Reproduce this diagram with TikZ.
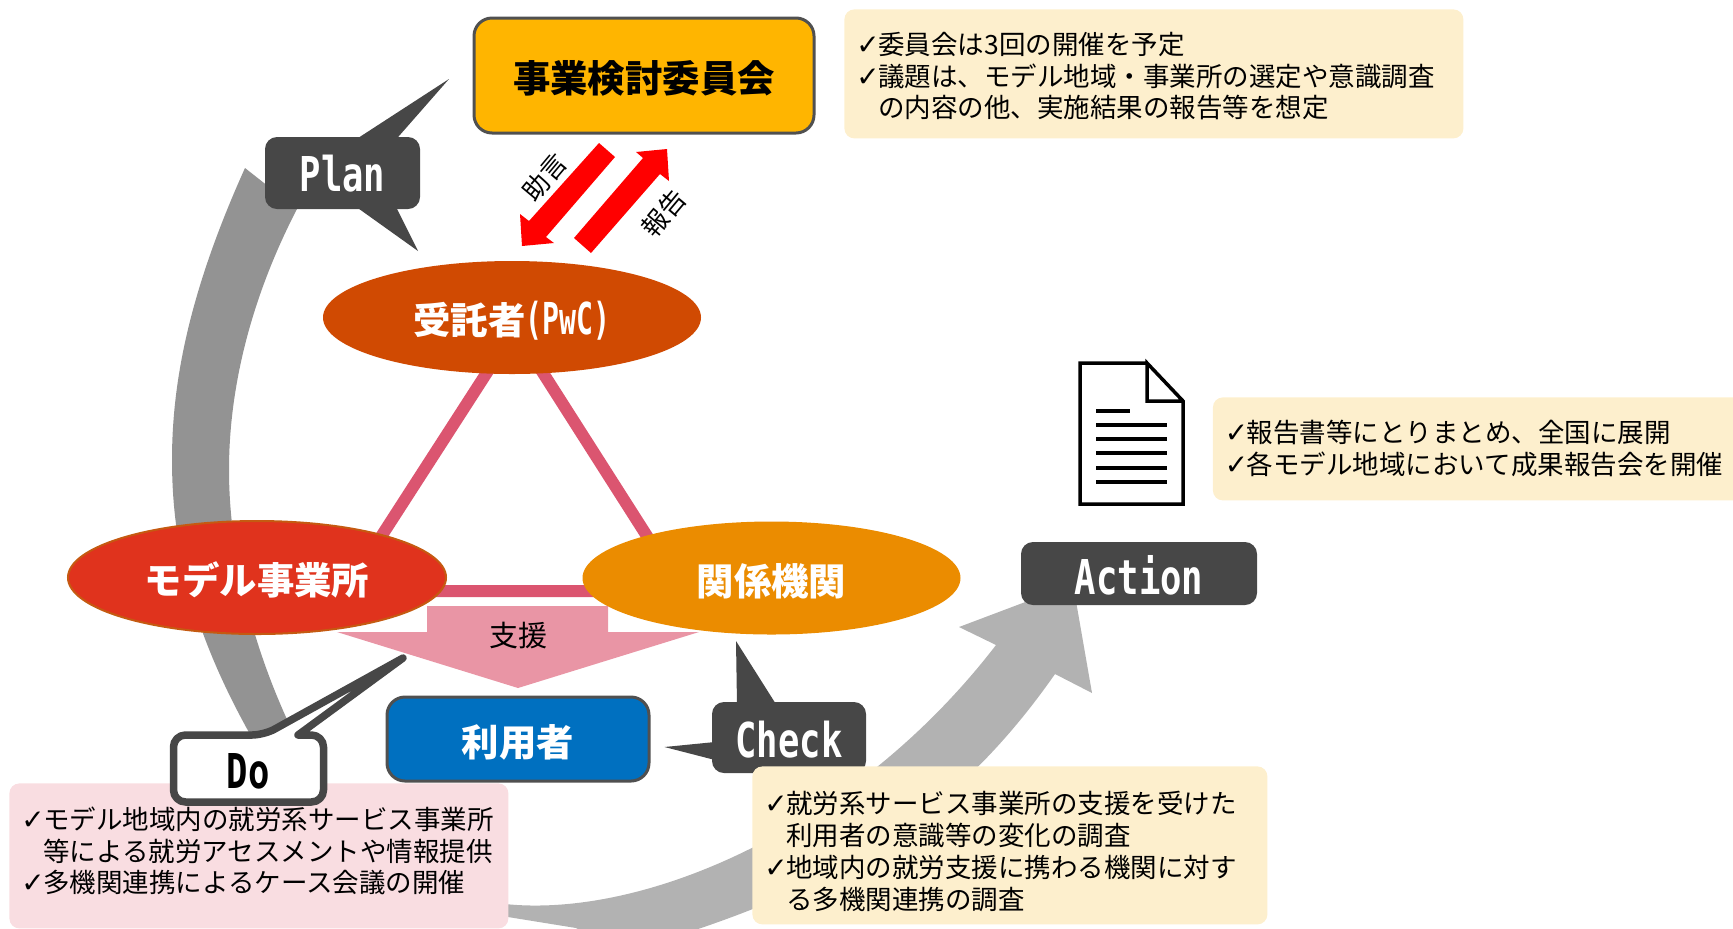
\documentclass[tikz,border=0pt]{standalone}
\usepackage{fontspec}
\setmainfont{Noto Sans CJK JP}
\newfontfamily\checkfont[Scale=1.05]{DejaVu Sans}
\newfontfamily\bubblefont[FakeStretch=0.74]{DejaVu Sans Mono}
\newfontfamily\pwcfont[FakeStretch=0.64]{DejaVu Sans Mono}
\usetikzlibrary{shapes.geometric}
\newcommand{\tick}{\makebox[11pt][l]{\checkfont ✓}}
\newcommand{\hang}{\hspace*{11pt}}
\newcommand{\sunk}[2]{\raisebox{#1}[0pt][0pt]{#2}}
\newcommand{\notebody}[3]{\raisebox{#1}[0pt][0pt]{\parbox{#2}{#3}}}
\definecolor{ringdark}{HTML}{939393}
\definecolor{ringlight}{HTML}{B2B2B2}
\definecolor{bubblegray}{HTML}{474747}
\definecolor{edgegray}{HTML}{505050}
\definecolor{notecream}{HTML}{FDEFCD}
\definecolor{notepink}{HTML}{F9DDE1}
\definecolor{linkrose}{HTML}{DB5570}
\definecolor{supportrose}{HTML}{E995A5}
\tikzset{
	labelfont/.style = { font = \fontsize{18.7}{22}\selectfont\bfseries },
	orgoval/.style = { ellipse , inner sep = 0pt , text = white , labelfont ,
		minimum width = 189pt , minimum height = 56.5pt },
	keybox/.style = { draw = edgegray , line width = 1.5pt , rounded corners = 9pt ,
		inner sep = 0pt , labelfont },
	bubble/.style = { fill = bubblegray , rounded corners = 6pt , inner sep = 0pt ,
		text = white , font = \fontsize{24}{28}\selectfont\bubblefont\bfseries },
	bubbletail/.style = { fill = bubblegray , line join = round },
	note/.style = { anchor = north west , rounded corners = 5pt , inner xsep = 6pt ,
		inner ysep = 0pt , font = \fontsize{13.25}{15.9}\selectfont },
	redarrow/.style = { fill = red },
	sidelabel/.style = { rotate = 50 , inner sep = 0pt , font = \fontsize{13}{15}\selectfont }
}

\begin{document}
\begin{tikzpicture}[ x = 0.5pt , y = -0.5pt ]
	\clip (0,0) rectangle (1733,928);
	% ring
	\fill [ ringdark ] (245,168) .. controls (190,290) and (172,380) .. (172,460)
		.. controls (172,570) and (205,670) .. (290,800)
		-- (330,800) .. controls (262,690) and (229,570) .. (229,470)
		.. controls (229,380) and (255,290) .. (297,209) -- cycle;
	\fill [ ringlight ] (490,902) .. controls (630,925) and (850,835) .. (996,645)
		-- (959,627) -- (1073,584) -- (1092,693) -- (1055,674)
		.. controls (960,810) and (850,880) .. (680,935)
		-- (640,960) -- (576,928) -- (508,917) -- cycle;
	% triangle
	\coordinate (apex) at (515,329);
	\coordinate (baseleft) at (346,591);
	\coordinate (baseright) at (682,591);
	\draw [ linkrose , line width = 6pt ] (apex) -- (baseleft) -- (baseright) -- cycle;
	% support arrow
	\fill [ supportrose ] (427,606) -- (608,606) -- (608,632) -- (699,632)
		-- (518,688) -- (337,632) -- (427,632) -- cycle;
	\node (support) [ inner sep = 0pt , font = \fontsize{14.5}{16}\selectfont ]
		at (518,636) { 支援 };
	% organisations
	\node (pwc) [ orgoval , fill = {rgb,255:red,208;green,74;blue,2} ] at (512,317.5)
		{ \sunk{-8.7pt}{受託者{\fontsize{22}{24}\pwcfont (PwC)}} };
	\node (model) [ orgoval , fill = {rgb,255:red,224;green,51;blue,29} ,
		draw = {rgb,255:red,197;green,90;blue,17} , line width = 1pt ] at (257,577.5)
		{ \sunk{-8.7pt}{モデル事業所} };
	\node (agency) [ orgoval , fill = {rgb,255:red,235;green,140;blue,0} ] at (771.5,578)
		{ \sunk{-8.7pt}{関係機関} };
	\node (committee) [ keybox , fill = {rgb,255:red,255;green,181;blue,0} ,
		minimum width = 170pt , minimum height = 57.5pt ] at (644,75.5)
		{ \sunk{-8.7pt}{事業検討委員会} };
	\node (user) [ keybox , fill = {rgb,255:red,0;green,112;blue,192} , text = white ,
		minimum width = 131pt , minimum height = 42pt ] at (518,739)
		{ \sunk{-8.7pt}{利用者} };
	% advice and report
	\fill [ redarrow ] (599,143) -- (615,157) -- (546,237) -- (554,243) -- (522,246)
		-- (520,214) -- (529,221) -- cycle;
	\fill [ redarrow ] (574,238) -- (591,253) -- (660,174) -- (669,181) -- (667,149)
		-- (636,152) -- (643,158) -- cycle;
	\node (advice) [ sidelabel ] at (545,177) { 助言 };
	\node (report) [ sidelabel ] at (664,213) { 報告 };
	% bubbles
	\fill [ bubbletail ] (355,140) -- (449,79) -- (395.5,140) -- cycle;
	\fill [ bubbletail ] (355,206) -- (418,251) -- (395.5,206) -- cycle;
	\node (plan) [ bubble , minimum width = 77.5pt , minimum height = 36pt ] at (342.5,173)
		{ \sunk{-9.3pt}{Plan} };
	\fill [ bubbletail ] (737,705) -- (736,641) -- (776.5,705) -- cycle;
	\fill [ bubbletail ] (715,742) -- (664.5,747) -- (715,760) -- cycle;
	\node (check) [ bubble , minimum width = 77pt , minimum height = 35.5pt ] at (789,737.5)
		{ \sunk{-10pt}{Check} };
	\node (action) [ bubble , minimum width = 118pt , minimum height = 31.5pt ] at (1139,573.5)
		{ \sunk{-10.3pt}{Action} };
	% report icon
	\draw [ black , line width = 1.75pt , line join = miter ] (1147,363) -- (1080,363) -- (1080,504)
		-- (1183,504) -- (1183,401) -- (1147,363) -- (1147,401) -- (1183,401);
	\draw [ black , line width = 1.75pt ] (1096,411) -- (1130,411);
	\foreach \liney in { 425 , 439 , 453 , 468 , 482 }
		\draw [ black , line width = 1.75pt ] (1096,\liney) -- (1167,\liney);
	% notes
	\node (planote) [ note , fill = notecream , minimum width = 309.5pt , minimum height = 64.5pt ]
		at (844,9)
		{ \notebody{-4.7pt}{297.5pt}{\tick 委員会は3回の開催を予定\\
			\tick 議題は、モデル地域・事業所の選定や意識調査\\
			\hang の内容の他、実施結果の報告等を想定} };
	\node (actnote) [ note , fill = notecream , minimum width = 266pt , minimum height = 51.5pt ]
		at (1212.5,397)
		{ \notebody{-3.3pt}{254pt}{\tick 報告書等にとりまとめ、全国に展開\\
			\tick 各モデル地域において成果報告会を開催} };
	\node (checknote) [ note , fill = notecream , minimum width = 257.5pt , minimum height = 79pt ]
		at (752,766)
		{ \notebody{-6.6pt}{245.5pt}{\tick 就労系サービス事業所の支援を受けた\\
			\hang 利用者の意識等の変化の調査\\
			\tick 地域内の就労支援に携わる機関に対す\\
			\hang る多機関連携の調査} };
	\node (donote) [ note , fill = notepink , minimum width = 249.5pt , minimum height = 72.5pt ]
		at (9,783)
		{ \notebody{-1.1pt}{237.5pt}{\tick モデル地域内の就労系サービス事業所\\
			\hang 等による就労アセスメントや情報提供\\
			\tick 多機関連携によるケース会議の開催} };
	% do bubble
	\draw [ draw = bubblegray , fill = white , line width = 3.75pt , line join = round ]
		(264,735) -- (403,658) -- (298,735) [ rounded corners = 6pt ] -- (323.5,735)
		-- (323.5,802) -- (173.5,802) -- (173.5,735) -- cycle;
	\node (do) [ inner sep = 0pt , font = \fontsize{24}{28}\selectfont\bubblefont\bfseries ] at (248,771)
		{ Do };
\end{tikzpicture}
\end{document}
